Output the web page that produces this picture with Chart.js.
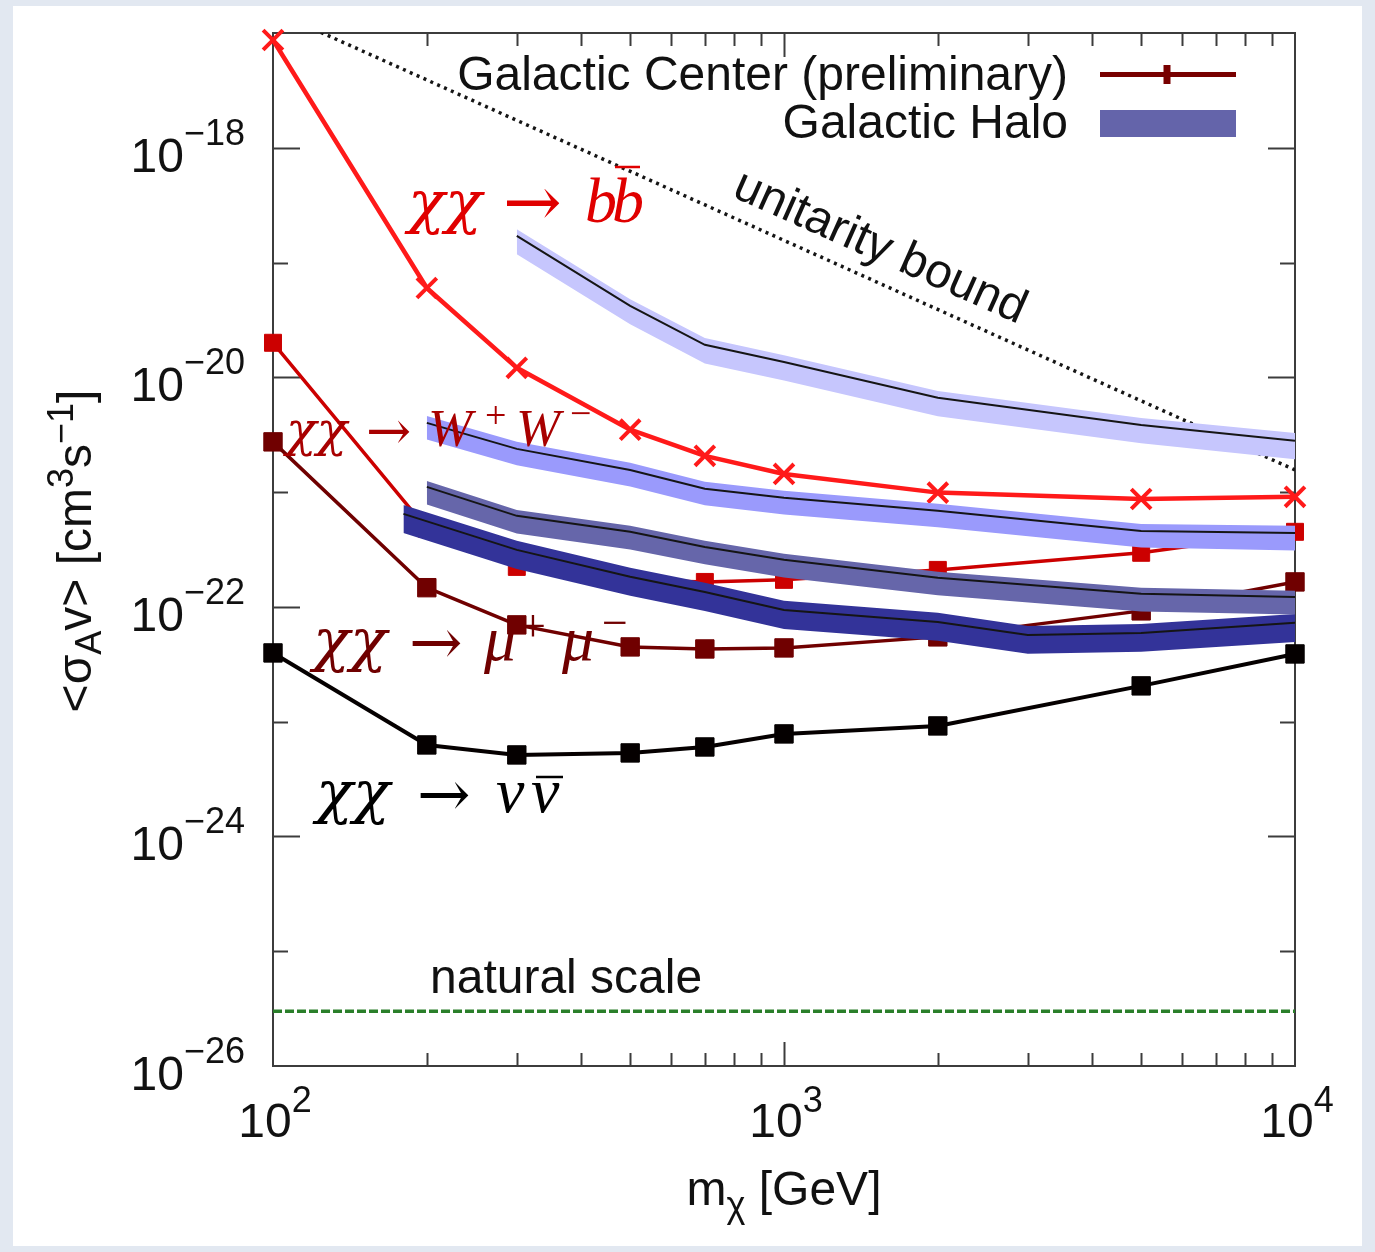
<!DOCTYPE html>
<html>
<head>
<meta charset="utf-8">
<title>Annihilation cross-section limits</title>
<script src="https://cdn.jsdelivr.net/npm/chart.js@4.4.1/dist/chart.umd.min.js"></script>
<style>
  html, body { margin: 0; padding: 0; background: #e2e8f1; }
  #sheet { position: absolute; left: 13px; top: 6px; width: 1349px; height: 1240px; background: #fff; }
  #wrap { position: absolute; left: 0; top: 0; width: 1375px; height: 1252px; }
</style>
</head>
<body>
<div id="sheet"></div>
<div id="wrap"><canvas id="c" width="1375" height="1252"></canvas></div>
<script>
// masses in GeV, <sigma v> in cm^3 s^-1

// Galactic Center (preliminary) limits
const massGC = [100, 200, 300, 500, 700, 1000, 2000, 5000, 10000];
const gcBB   = [8.7e-18, 6.0e-20, 1.21e-20, 3.5e-21, 2.07e-21, 1.44e-21, 9.9e-22, 8.7e-22, 9.1e-22];
const gcWW   = [2.0e-20, 4.8e-22, 2.23e-22, 1.72e-22, 1.65e-22, 1.72e-22, 2.10e-22, 2.96e-22, 4.51e-22];
const gcMuMu = [2.74e-21, 1.47e-22, 6.97e-23, 4.48e-23, 4.30e-23, 4.39e-23, 5.48e-23, 9.23e-23, 1.65e-22];
const gcNuNu = [3.97e-23, 6.27e-24, 5.13e-24, 5.34e-24, 6.02e-24, 7.82e-24, 9.18e-24, 2.05e-23, 3.89e-23];

// Galactic Halo limits: central line plus upper/lower edge of the band
const massHaloBB = [300, 500, 700, 1000, 2000, 5000, 10000];
const haloBB     = [1.71e-19, 4.20e-20, 1.92e-20, 1.36e-20, 6.63e-21, 3.85e-21, 2.80e-21];
const haloBBHi   = [1.95e-19, 4.78e-20, 2.20e-20, 1.56e-20, 7.60e-21, 4.42e-21, 3.27e-21];
const haloBBLo   = [1.18e-19, 2.90e-20, 1.32e-20, 9.40e-21, 4.57e-21, 2.66e-21, 1.93e-21];

const massHaloWW = [200, 300, 500, 700, 1000, 2000, 5000, 10000];
const haloWW     = [4.01e-21, 2.38e-21, 1.56e-21, 1.07e-21, 8.91e-22, 6.87e-22, 4.59e-22, 4.41e-22];
const haloWWHi   = [4.61e-21, 2.74e-21, 1.80e-21, 1.23e-21, 1.03e-21, 7.91e-22, 5.28e-22, 5.08e-22];
const haloWWLo   = [2.88e-21, 1.71e-21, 1.12e-21, 7.67e-22, 6.39e-22, 4.93e-22, 3.30e-22, 3.10e-22];

const massHaloMuMu = [200, 300, 500, 700, 1000, 2000, 5000, 10000];
const haloMuMu     = [1.11e-21, 6.21e-22, 4.51e-22, 3.33e-22, 2.57e-22, 1.79e-22, 1.30e-22, 1.22e-22];
const haloMuMuHi   = [1.25e-21, 7.00e-22, 5.08e-22, 3.76e-22, 2.90e-22, 2.02e-22, 1.47e-22, 1.38e-22];
const haloMuMuLo   = [7.80e-22, 4.37e-22, 3.17e-22, 2.35e-22, 1.80e-22, 1.26e-22, 9.12e-23, 8.60e-23];

const massHaloNuNu = [180, 300, 500, 700, 1000, 2000, 3000, 5000, 10000];
const haloNuNu     = [6.46e-22, 3.14e-22, 1.83e-22, 1.35e-22, 9.41e-23, 7.40e-23, 5.70e-23, 5.93e-23, 7.26e-23];
const haloNuNuHi   = [7.74e-22, 3.76e-22, 2.19e-22, 1.62e-22, 1.13e-22, 8.87e-23, 6.83e-23, 7.11e-23, 8.69e-23];
const haloNuNuLo   = [4.41e-22, 2.14e-22, 1.25e-22, 9.23e-23, 6.43e-23, 5.06e-23, 3.90e-23, 4.06e-23, 4.95e-23];

// reference lines
const massEnds     = [100, 10000];
const unitarity    = [1.56e-17, 1.56e-21];
const naturalScale = [3e-26, 3e-26];

// tick labels (powers of ten)
const xTickExp = [2, 3, 4];
const yTickExp = [-26, -24, -22, -20, -18];

const pts = (xs, ys) => xs.map((x, i) => ({ x, y: ys[i] }));

function gcLine(label, ys, color, style, radius, width) {
  return {
    label, data: pts(massGC, ys), order: 1, clip: false,
    borderColor: color, backgroundColor: color, borderWidth: width,
    pointStyle: style, pointRadius: radius, pointBorderWidth: style === 'crossRot' ? 4 : 1,
    pointBackgroundColor: color, pointBorderColor: color, borderJoinStyle: 'round'
  };
}

// band = upper edge, lower edge filled to it, black centre line on top
function haloBand(xs, hi, lo, mid, color) {
  return [
    { label: 'hi', data: pts(xs, hi), order: 0, borderWidth: 0, pointRadius: 0, fill: false },
    { label: 'lo', data: pts(xs, lo), order: 0, borderWidth: 0, pointRadius: 0, fill: '-1', backgroundColor: color },
    { label: 'mid', data: pts(xs, mid), order: -1, borderColor: '#151515', borderWidth: 2, pointRadius: 0, fill: false }
  ];
}

const datasets = [
  ...haloBand(massHaloBB, haloBBHi, haloBBLo, haloBB, '#c6c6fd'),
  ...haloBand(massHaloWW, haloWWHi, haloWWLo, haloWW, '#9a9afc'),
  ...haloBand(massHaloMuMu, haloMuMuHi, haloMuMuLo, haloMuMu, '#6666aa'),
  ...haloBand(massHaloNuNu, haloNuNuHi, haloNuNuLo, haloNuNu, '#333399'),
  gcLine('bb', gcBB, '#ff1a1a', 'crossRot', 14, 4.5),
  gcLine('WW', gcWW, '#cc0000', 'rect', 12, 3.5),
  gcLine('mumu', gcMuMu, '#700000', 'rect', 13, 3.5),
  gcLine('nunu', gcNuNu, '#050000', 'rect', 13, 4),
  { label: 'unitarity', data: pts(massEnds, unitarity), order: 2, borderColor: '#151515',
    borderWidth: 3.5, borderDash: [3, 4.5], pointRadius: 0, fill: false },
  { label: 'natural', data: pts(massEnds, naturalScale), order: 2, borderColor: '#2a7f2a',
    borderWidth: 3.5, borderDash: [9, 3], pointRadius: 0, fill: false }
];

const SANS = '"Liberation Sans", Arial, Helvetica, sans-serif';
const SERIF = '"Liberation Serif", "Times New Roman", serif';
const GREEK = '"DejaVu Serif", serif';

// draws runs of text, each with its own font and baseline shift
function rich(ctx, x, y, parts, align) {
  let w = 0;
  for (const p of parts) { ctx.font = p.f; p.w = ctx.measureText(p.t).width; w += p.w; }
  let cx = align === 'right' ? x - w : align === 'center' ? x - w / 2 : x;
  ctx.textAlign = 'left';
  for (const p of parts) {
    ctx.font = p.f;
    ctx.fillText(p.t, cx, y + (p.dy || 0));
    cx += p.w;
  }
}

// pieces placed at their own x positions (process labels)
function placed(ctx, color, pieces) {
  ctx.fillStyle = color; ctx.strokeStyle = color;
  ctx.textAlign = 'left';
  for (const p of pieces) {
    ctx.font = p.f;
    ctx.save();
    ctx.translate(p.x, p.y);
    ctx.scale(p.sx || 1, 1);
    ctx.fillText(p.t, 0, 0);
    ctx.restore();
    if (p.bar) {
      ctx.lineWidth = 2.5;
      ctx.beginPath(); ctx.moveTo(p.bar[0], p.bar[2]); ctx.lineTo(p.bar[1], p.bar[2]); ctx.stroke();
    }
  }
}

const frame = {
  id: 'gnuFrame',
  beforeDatasetsDraw(chart) {
    const { ctx, chartArea: a, scales: { x, y } } = chart;
    ctx.save();
    ctx.strokeStyle = '#3c3c3c';
    ctx.lineWidth = 2;
    const seg = (x1, y1, x2, y2) => { ctx.beginPath(); ctx.moveTo(x1, y1); ctx.lineTo(x2, y2); ctx.stroke(); };
    for (let e = -25; e <= -18; e++) {
      const py = Math.round(y.getPixelForValue(Math.pow(10, e))) + 0.5;
      const len = e % 2 === 0 ? 27 : 15;
      seg(a.left, py, a.left + len, py);
      seg(a.right, py, a.right - len, py);
    }
    for (let d = 2; d <= 3; d++) {
      for (let k = 1; k <= 9; k++) {
        if (d === 2 && k === 1) continue;
        const px = Math.round(x.getPixelForValue(k * Math.pow(10, d))) + 0.5;
        const len = k === 1 ? 24 : 13;
        seg(px, a.bottom, px, a.bottom - len);
        seg(px, a.top, px, a.top + len);
      }
    }
    ctx.strokeRect(a.left, a.top, a.right - a.left, a.bottom - a.top);
    ctx.restore();
  },
  afterDraw(chart) {
    const { ctx, scales: { x, y } } = chart;
    ctx.save();
    ctx.fillStyle = '#111';
    ctx.textBaseline = 'alphabetic';

    // tick labels
    for (const e of yTickExp) {
      const py = y.getPixelForValue(Math.pow(10, e));
      rich(ctx, 245, py, [
        { t: '10', f: `48px ${SANS}`, dy: 24 },
        { t: '\u2212' + Math.abs(e), f: `36px ${SANS}`, dy: -3 }
      ], 'right');
    }
    for (const e of xTickExp) {
      const px = x.getPixelForValue(Math.pow(10, e));
      rich(ctx, px + 2, 1137, [
        { t: '10', f: `48px ${SANS}` },
        { t: String(e), f: `36px ${SANS}`, dy: -25 }
      ], 'center');
    }

    // axis titles
    rich(ctx, 784, 1205, [
      { t: 'm', f: `48px ${SANS}` },
      { t: '\u03c7', f: `36px ${SANS}`, dy: 12 },
      { t: ' [GeV]', f: `48px ${SANS}` }
    ], 'center');
    ctx.save();
    ctx.translate(91, 551);
    ctx.rotate(-Math.PI / 2);
    rich(ctx, 0, 0, [
      { t: '<\u03c3', f: `48px ${SANS}` },
      { t: 'A', f: `36px ${SANS}`, dy: 10 },
      { t: 'v> [cm', f: `48px ${SANS}` },
      { t: '3', f: `36px ${SANS}`, dy: -18 },
      { t: 's', f: `48px ${SANS}` },
      { t: '\u22121', f: `36px ${SANS}`, dy: -18 },
      { t: ']', f: `48px ${SANS}` }
    ], 'center');
    ctx.restore();

    // legend
    ctx.font = `48px ${SANS}`;
    ctx.textAlign = 'right';
    ctx.fillText('Galactic Center (preliminary)', 1068, 90);
    ctx.fillText('Galactic Halo', 1068, 138);
    ctx.strokeStyle = '#780000';
    ctx.lineWidth = 5;
    ctx.beginPath(); ctx.moveTo(1100, 74.5); ctx.lineTo(1236, 74.5); ctx.stroke();
    ctx.lineWidth = 7;
    ctx.beginPath(); ctx.moveTo(1167, 65); ctx.lineTo(1167, 84); ctx.stroke();
    ctx.fillStyle = '#6464aa';
    ctx.fillRect(1100, 110, 136, 27);

    // reference line labels
    ctx.fillStyle = '#111';
    ctx.textAlign = 'left';
    ctx.fillText('natural scale', 430, 993);
    ctx.save();
    ctx.translate(880, 248);
    ctx.rotate(24 * Math.PI / 180);
    ctx.textAlign = 'center';
    ctx.textBaseline = 'middle';
    ctx.fillText('unitarity bound', 0, 0);
    ctx.restore();

    // process labels
    const it = s => `italic ${s}px ${SERIF}`;
    const up = s => `${s}px ${SERIF}`;
    const gk = s => `italic ${s}px ${GREEK}`;
    const ar = s => `${s}px ${GREEK}`;
    placed(ctx, '#e00000', [
      { t: '\u03c7\u03c7', f: gk(58), x: 408, y: 222, sx: 1.05 },
      { t: '\u2192', f: ar(70), x: 503, y: 226 },
      { t: 'b', f: it(64), x: 585, y: 222 },
      { t: 'b', f: it(64), x: 612, y: 222, bar: [615, 640, 167] }
    ]);
    placed(ctx, '#a80000', [
      { t: '\u03c7\u03c7', f: gk(48), x: 286, y: 446, sx: 1.05 },
      { t: '\u2192', f: ar(54), x: 366, y: 449 },
      { t: 'W', f: it(53), x: 428, y: 446 },
      { t: '+', f: up(38), x: 485, y: 428 },
      { t: 'W', f: it(53), x: 516, y: 446 },
      { t: '\u2212', f: up(38), x: 570, y: 426 }
    ]);
    placed(ctx, '#700000', [
      { t: '\u03c7\u03c7', f: gk(58), x: 313, y: 660, sx: 1.05 },
      { t: '\u2192', f: ar(64), x: 409, y: 664 },
      { t: '\u03bc', f: it(64), x: 484, y: 660 },
      { t: '+', f: up(46), x: 520, y: 641 },
      { t: '\u03bc', f: it(64), x: 562, y: 660 },
      { t: '\u2212', f: up(46), x: 602, y: 638 }
    ]);
    placed(ctx, '#000000', [
      { t: '\u03c7\u03c7', f: gk(58), x: 316, y: 812, sx: 1.05 },
      { t: '\u2192', f: ar(64), x: 417, y: 816 },
      { t: '\u03bd', f: it(64), x: 496, y: 812 },
      { t: '\u03bd', f: it(64), x: 531, y: 812, bar: [536, 563, 777] }
    ]);
    ctx.restore();
  }
};

new Chart(document.getElementById('c'), {
  type: 'line',
  data: { datasets },
  options: {
    responsive: false,
    animation: false,
    devicePixelRatio: 1,
    layout: { padding: { left: 273, right: 80, top: 33, bottom: 186 } },
    plugins: { legend: { display: false }, tooltip: { enabled: false } },
    elements: { line: { tension: 0 } },
    scales: {
      x: { type: 'logarithmic', min: 100, max: 10000, display: false },
      y: { type: 'logarithmic', min: 1e-26, max: 1e-17, display: false }
    }
  },
  plugins: [frame]
});
</script>
</body>
</html>
